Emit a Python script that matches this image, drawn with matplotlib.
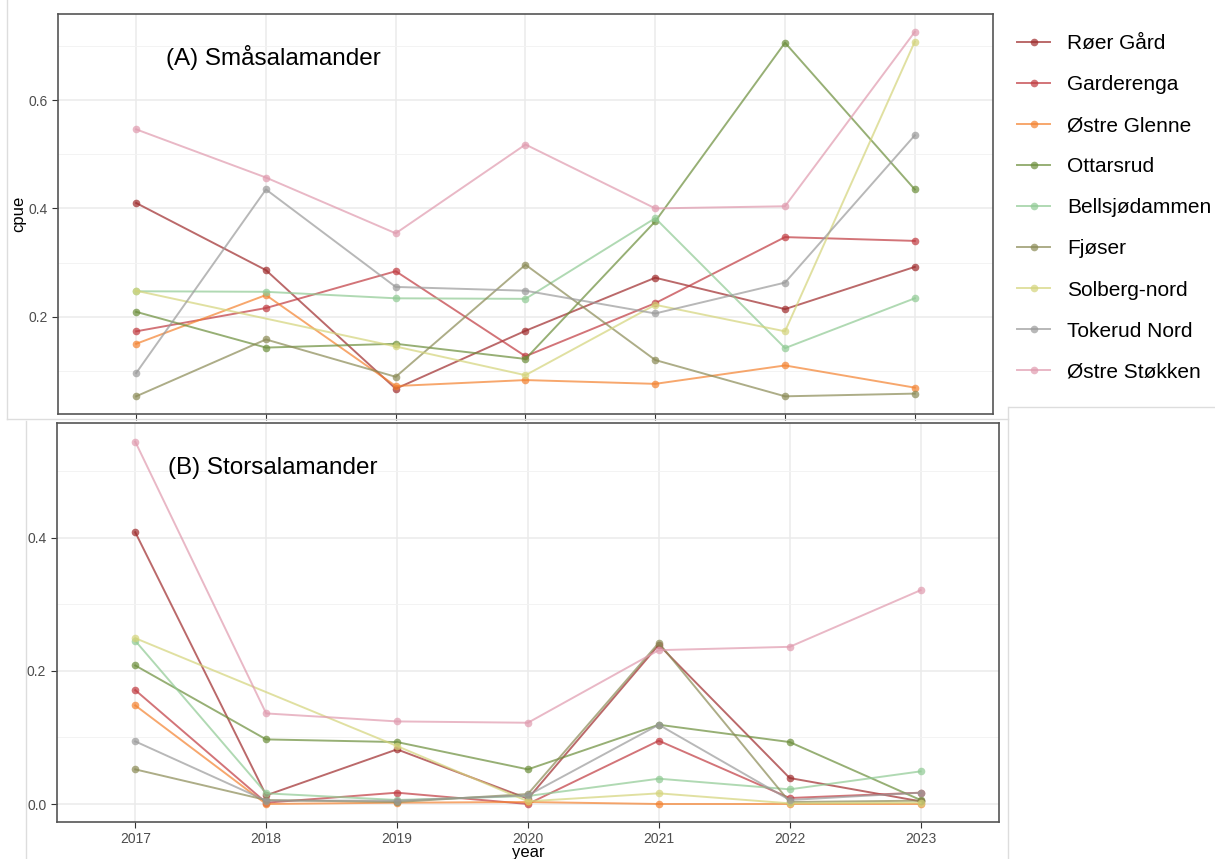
import numpy as np
import matplotlib
matplotlib.use('Agg')
import matplotlib.pyplot as plt
from matplotlib.lines import Line2D

plt.rcParams['font.family'] = ['Liberation Sans', 'DejaVu Sans']

nan = np.nan
years = [2017, 2018, 2019, 2020, 2021, 2022, 2023]
sites = ['Røer Gård', 'Garderenga', 'Østre Glenne', 'Ottarsrud', 'Bellsjødammen',
         'Fjøser', 'Solberg-nord', 'Tokerud Nord', 'Østre Støkken']
colors = ['#9e2a2b', '#c0393f', '#f4822f', '#6b8e3a', '#8fca93',
          '#8a8a55', '#d4d47a', '#9a9a9a', '#e09aae']

# (A) Småsalamander, cpue
roer_a = [0.410, 0.286, 0.067, 0.174, 0.272, 0.214, 0.292]
garde_a = [0.173, 0.216, 0.284, 0.127, 0.225, 0.347, 0.340]
glenne_a = [0.150, 0.240, 0.072, 0.083, 0.076, 0.110, 0.069]
ottar_a = [0.209, 0.143, 0.150, 0.122, 0.376, 0.706, 0.435]
bells_a = [0.247, 0.246, 0.234, 0.233, 0.382, 0.142, 0.234]
fjoser_a = [0.053, 0.158, 0.089, 0.296, 0.120, 0.053, 0.058]
solberg_a = [0.248, nan, 0.145, 0.092, 0.222, 0.173, 0.708]
tokerud_a = [0.096, 0.435, 0.255, 0.248, 0.206, 0.263, 0.535]
stokken_a = [0.546, 0.457, 0.354, 0.518, 0.400, 0.404, 0.726]

# (B) Storsalamander, cpue
roer_b = [0.408, 0.013, 0.082, 0.008, 0.239, 0.039, 0.004]
garde_b = [0.171, 0.002, 0.017, 0.000, 0.095, 0.009, 0.017]
glenne_b = [0.148, 0.000, 0.002, 0.003, 0.000, 0.000, 0.000]
ottar_b = [0.208, 0.097, 0.093, 0.052, 0.119, 0.093, 0.006]
bells_b = [0.245, 0.016, 0.006, 0.012, 0.038, 0.022, 0.049]
fjoser_b = [0.052, 0.006, 0.003, 0.015, 0.242, 0.003, 0.005]
solberg_b = [0.249, nan, 0.087, 0.004, 0.016, 0.001, 0.002]
tokerud_b = [0.094, 0.005, 0.005, 0.013, 0.119, 0.006, 0.017]
stokken_b = [0.544, 0.136, 0.124, 0.122, 0.231, 0.236, 0.321]

panel_a = [roer_a, garde_a, glenne_a, ottar_a, bells_a, fjoser_a, solberg_a, tokerud_a, stokken_a]
panel_b = [roer_b, garde_b, glenne_b, ottar_b, bells_b, fjoser_b, solberg_b, tokerud_b, stokken_b]

fig = plt.figure(figsize=(12.15, 8.59), dpi=100)
ax1 = fig.add_axes([0.048, 0.5177, 0.769, 0.466])
ax2 = fig.add_axes([0.0467, 0.0434, 0.7756, 0.4638])


def draw(ax, series, ylim, yticks, minor):
    yrs = np.array(years)
    for vals, col, name in zip(series, colors, sites):
        v = np.array(vals, dtype=float)
        ok = ~np.isnan(v)
        ax.plot(yrs[ok], v[ok], '-o', color=col, alpha=0.7, lw=1.4, ms=5.5,
                mew=0, label=name)
    ax.set_xlim(2016.4, 2023.6)
    ax.set_ylim(*ylim)
    ax.set_xticks(years)
    ax.set_yticks(yticks)
    ax.set_yticks(minor, minor=True)
    ax.grid(True, which='major', color='#ebebeb', lw=1.1)
    ax.grid(True, which='minor', axis='y', color='#f3f3f3', lw=0.7)
    ax.set_axisbelow(True)
    for s in ax.spines.values():
        s.set_color('#555555')
        s.set_linewidth(1.2)
    ax.tick_params(which='major', length=4, color='#333333', labelsize=10,
                   labelcolor='#4d4d4d')
    ax.tick_params(which='minor', length=0)


draw(ax1, panel_a, (0.0198, 0.759), [0.2, 0.4, 0.6], [0.1, 0.3, 0.5, 0.7])
ax1.set_xticklabels([])
ax1.set_ylabel('cpue', fontsize=12, labelpad=2)
ax1.text(2017.23, 0.678, '(A) Småsalamander', fontsize=17.5, va='center', ha='left')

draw(ax2, panel_b, (-0.0266, 0.5716), [0.0, 0.2, 0.4], [0.1, 0.3, 0.5])
ax2.set_yticklabels(['0.0', '0.2', '0.4'])
ax2.set_xlabel('year', fontsize=12, labelpad=-1)
ax2.text(2017.25, 0.504, '(B) Storsalamander', fontsize=17.5, va='center', ha='left')

handles, labels = ax1.get_legend_handles_labels()
fig.legend(handles, labels, loc='upper left', bbox_to_anchor=(1017 / 1215, 1 - 34 / 859),
           frameon=False, fontsize=15, handlelength=1.6, handletextpad=0.8,
           labelspacing=1.06, borderpad=0, borderaxespad=0)

# faint borders of the pasted panels
W, H = 1215.0, 859.0
edge = '#dddddd'
def fline(x0, y0, x1, y1):
    fig.add_artist(Line2D([x0 / W, x1 / W], [1 - y0 / H, 1 - y1 / H], color=edge, lw=1))

fline(7, 0, 7, 419)
fline(7, 419, 1008, 419)
fline(26, 421, 26, 859)
fline(1008, 407, 1008, 859)
fline(1009, 407, 1215, 407)

fig.savefig('out.png', dpi=100)
